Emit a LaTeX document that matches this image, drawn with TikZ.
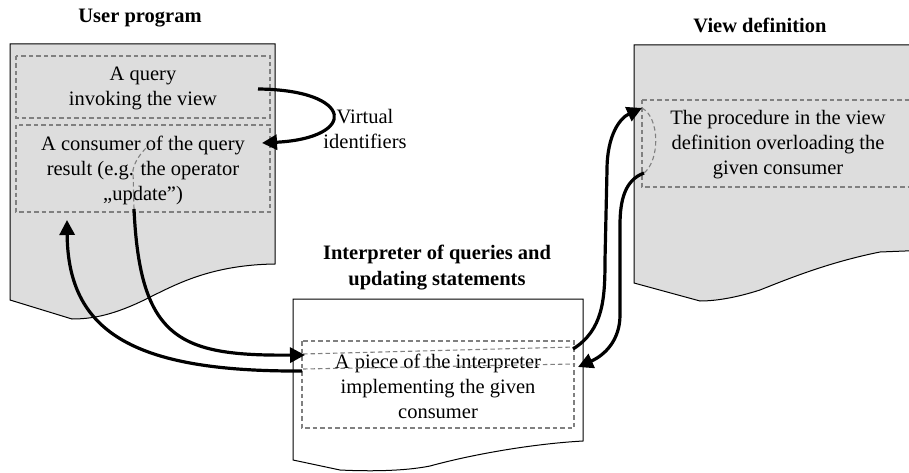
\documentclass[tikz,border=0pt]{standalone}
\usepackage{fontspec}
\setmainfont{Liberation Serif}
\usetikzlibrary{arrows.meta}
\definecolor{paper}{RGB}{221,221,221}
\definecolor{dashgray}{RGB}{128,128,128}
\tikzset{
  doc/.style={draw=black, line width=1pt},
  part/.style={draw=dashgray, line width=1.2pt, dash pattern=on 4.5pt off 3pt},
  hint/.style={draw=dashgray, line width=1.1pt, dash pattern=on 4.5pt off 3pt},
  flow/.style={draw=black, line width=3.2pt, -{Triangle[length=15pt,width=15pt]}},
  txt/.style={font=\fontsize{20.5}{25}\selectfont, align=center, inner sep=0pt},
  ttl/.style={font=\fontsize{20.5}{26}\selectfont\bfseries, align=center, inner sep=0pt}
}
\begin{document}
\begin{tikzpicture}[x=1pt,y=-1pt]
\useasboundingbox (0,0) rectangle (909,473);
\fill[white] (0,0) rectangle (909,473);

% documents
\path[doc, fill=paper] (10,44) -- (275,44) -- (275,264)
  .. controls (205,265) and (170,288) .. (140,302)
  .. controls (110,316) and (90,319) .. (72,319) -- (10,300) -- cycle;
\path[doc, fill=white] (293,299) -- (583,299) -- (583,441)
  .. controls (530,444) and (470,455) .. (430,466)
  .. controls (400,472) and (360,471) .. (340,470) -- (293,460) -- cycle;
\path[doc, fill=paper] (634,45) -- (930,45) -- (930,250) -- (880,252)
  .. controls (830,262) and (790,278) .. (760,290)
  .. controls (735,298) and (715,301) .. (700,301) -- (634,283) -- cycle;

% titles
\node[ttl] (tUser) at (140,18) {User program};
\node[ttl] (tView) at (760,25) {View definition};
\node[ttl] (tInterp) at (437,268) {Interpreter of queries and\\updating statements};

% dashed parts
\draw[part] (16,56) rectangle (270,118);
\draw[part] (16,125) rectangle (270,212);
\draw[part] (642,100) -- (930,100) (642,100) -- (642,187) -- (930,187);
\draw[part] (302,341) rectangle (574,428);

% texts
\node[txt] (query) at (143,88) {A query\\invoking the view};
\node[txt] (consumer) at (143,170) {A consumer of the query\\result (e.g. the operator\\„update”)};
\node[txt] (proc) at (778,145) {The procedure in the view\\definition overloading the\\given consumer};
\node[txt] (piece) at (438,386) {A piece of the interpreter\\implementing the given\\consumer};
\node[txt] (virt) at (365,129) {Virtual\\identifiers};

% connector end points
\coordinate (qOut) at (258,89);
\coordinate (cIn) at (262,143);
\coordinate (cOut) at (134,209);
\coordinate (cRet) at (67,220);
\coordinate (cHint) at (148,146);
\coordinate (pIn) at (305,355);
\coordinate (pOut) at (302,371);
\coordinate (pUp) at (573,349);
\coordinate (pRet) at (578,367);
\coordinate (vIn) at (642,108);
\coordinate (vOut) at (644,173);

% dashed hints of the invoked parts
\path[hint] (cOut) -- (133,170) .. controls (135,160) and (142,152) .. (cHint);
\path[hint] (vIn) .. controls (660,118) and (660,160) .. (vOut);
\path[hint] (303,354) -- (575,347);
\path[hint] (303,369) -- (575,364);

% control flow
\path[flow] (qOut) .. controls (355,90) and (358,138) .. (cIn);
\path[flow] (cOut) .. controls (140,340) and (180,356) .. (pIn);
\path[flow] (pOut) .. controls (130,372) and (68,330) .. (cRet);
\path[flow] (pUp) .. controls (603,330) and (605,300) .. (605,260)
  -- (607,170) .. controls (607,135) and (620,118) .. (vIn);
\path[flow] (vOut) .. controls (625,180) and (620,200) .. (620,225)
  -- (620,315) .. controls (620,340) and (605,355) .. (pRet);
\end{tikzpicture}
\end{document}
